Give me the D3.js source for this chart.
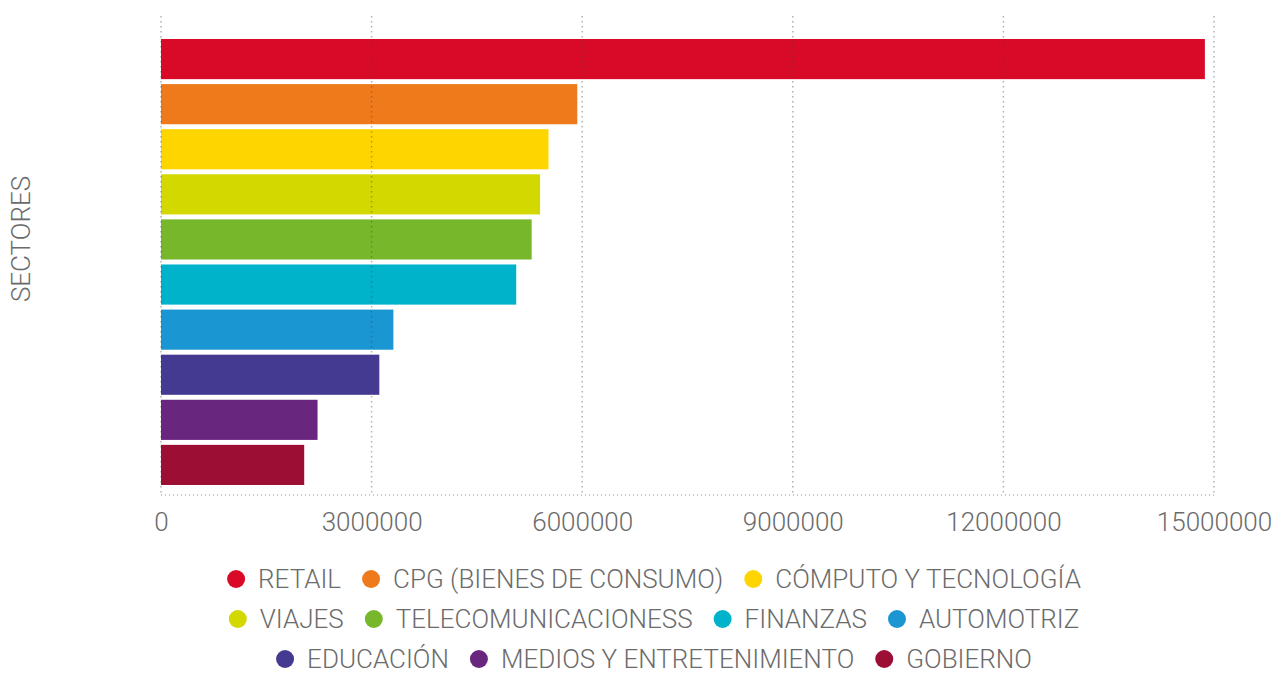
<!DOCTYPE html>
<html>
<head>
<meta charset="utf-8">
<script src="https://cdn.jsdelivr.net/npm/d3@7.9.0/dist/d3.min.js"></script>
<style>
  body { margin: 0; background: #fff; }
  svg { display: block; font-family: Roboto, "Noto Sans", sans-serif; font-weight: 300; }
</style>
</head>
<body>
<svg id="chart" width="1276" height="673"></svg>
<script>
// Data
const sectors = ['RETAIL', 'CPG (BIENES DE CONSUMO)', 'CÓMPUTO Y TECNOLOGÍA', 'VIAJES',
  'TELECOMUNICACIONESS', 'FINANZAS', 'AUTOMOTRIZ', 'EDUCACIÓN', 'MEDIOS Y ENTRETENIMIENTO', 'GOBIERNO'];
const values = [14870000, 5930000, 5520000, 5400000, 5280000, 5060000, 3310000, 3110000, 2230000, 2040000];
const colors = ['#d90a27', '#ef7a1b', '#ffd500', '#d3d800', '#77b72c', '#00b3ca', '#1a97d2', '#453a91', '#69267f', '#9c0e33'];
const xTicks = [0, 3000000, 6000000, 9000000, 12000000, 15000000];

const svg = d3.select('#chart');
const plotLeft = 161, plotRight = 1214, plotTop = 16, plotBottom = 495;

const x = d3.scaleLinear().domain([0, 15000000]).range([plotLeft, plotRight]);
const y = d3.scaleBand().domain(sectors).range([39, 485]).paddingInner(0.11);

// Bars
svg.append('g').selectAll('rect')
  .data(sectors)
  .join('rect')
  .attr('x', x(0))
  .attr('y', d => y(d))
  .attr('width', (d, i) => x(values[i]) - x(0))
  .attr('height', y.bandwidth())
  .attr('fill', (d, i) => colors[i]);

// Dotted grid, drawn over the bars
const grid = svg.append('g')
  .attr('stroke', '#444')
  .attr('stroke-opacity', 0.42)
  .attr('stroke-width', 1.5)
  .attr('stroke-dasharray', '1.5,3.5');

grid.selectAll('line.v')
  .data(xTicks)
  .join('line')
  .attr('class', 'v')
  .attr('x1', d => x(d)).attr('x2', d => x(d))
  .attr('y1', plotTop).attr('y2', plotBottom);

grid.append('line')
  .attr('x1', plotLeft).attr('x2', plotRight)
  .attr('y1', plotBottom).attr('y2', plotBottom)
  .attr('stroke-dasharray', '1,3');

// X axis labels
const xAxis = d3.axisBottom(x).tickValues(xTicks).tickFormat(d3.format('d')).tickSize(0).tickPadding(18);
const gx = svg.append('g').attr('transform', `translate(0,${plotBottom})`).call(xAxis);
gx.select('.domain').remove();
gx.selectAll('text')
  .attr('fill', '#6b6b6b')
  .style('font-family', 'Roboto, sans-serif')
  .style('font-weight', 300)
  .style('font-size', '26px');

// Y axis title
svg.append('text')
  .attr('transform', 'translate(30,239) rotate(-90)')
  .attr('text-anchor', 'middle')
  .attr('fill', '#6b6b6b')
  .style('font-size', '26px')
  .text('SECTORES');

// Legend, wrapped into rows
const legend = svg.append('g');
const r = 9, gapText = 13, gapItem = 21, maxRow = 900, rowH = 40, legendCx = 654, legendY0 = 579;
const items = sectors.map((s, i) => {
  const g = legend.append('g');
  g.append('circle').attr('r', r).attr('cx', r).attr('cy', 0).attr('fill', colors[i]);
  const t = g.append('text')
    .attr('x', 2 * r + gapText)
    .attr('dy', '0.35em')
    .attr('fill', '#6b6b6b')
    .style('font-size', '26px')
    .text(s);
  return { g, w: 2 * r + gapText + t.node().getComputedTextLength() };
});

const rows = [];
let cur = [], curW = 0;
items.forEach(it => {
  const add = cur.length ? gapItem + it.w : it.w;
  if (cur.length && curW + add > maxRow) {
    rows.push({ items: cur, w: curW });
    cur = [it]; curW = it.w;
  } else {
    cur.push(it); curW += add;
  }
});
rows.push({ items: cur, w: curW });

rows.forEach((row, ri) => {
  let xx = legendCx - row.w / 2;
  row.items.forEach(it => {
    it.g.attr('transform', `translate(${xx},${legendY0 + ri * rowH})`);
    xx += it.w + gapItem;
  });
});
</script>
</body>
</html>
